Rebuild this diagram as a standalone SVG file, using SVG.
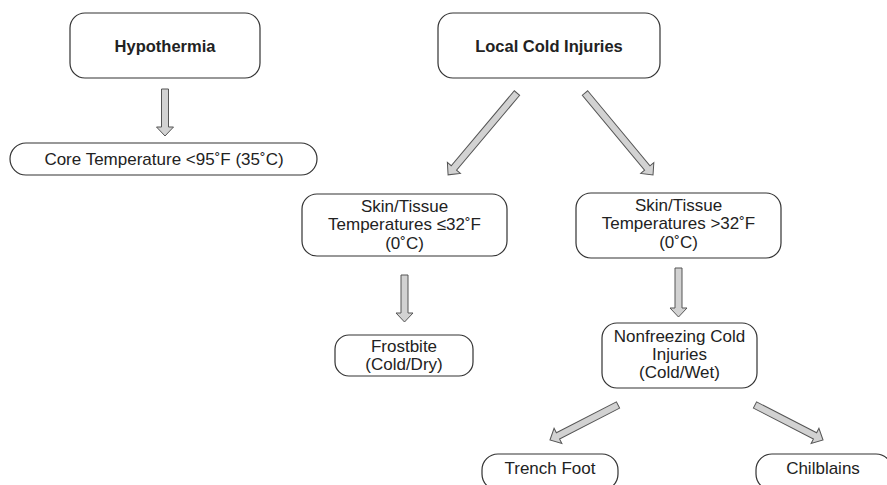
<svg xmlns="http://www.w3.org/2000/svg" width="887" height="485" viewBox="0 0 887 485">
<style>
.box{fill:#fff;stroke:#333;stroke-width:1.2}
.arr{fill:#d2d2d2;stroke:#555;stroke-width:1}
text{font-family:"Liberation Sans",Arial,sans-serif;font-size:17px;fill:#222;text-anchor:middle}
.b{font-weight:bold;font-size:16.5px}
</style>
<rect width="887" height="485" fill="#fff"/>
<g id="connectors">
<path class="arr" transform="translate(165,89) rotate(90)" d="M0,-3.5 H38 V-8.5 L47,0 L38,8.5 V3.5 H0 Z"/>
<path class="arr" transform="translate(404.5,275) rotate(90)" d="M0,-3.5 H38 V-8.5 L47,0 L38,8.5 V3.5 H0 Z"/>
<path class="arr" transform="translate(678.5,268) rotate(90)" d="M0,-3.5 H40 V-8.5 L49,0 L40,8.5 V3.5 H0 Z"/>
<path class="arr" transform="translate(517,93) rotate(130.1)" d="M0,-3.5 H98 V-8.5 L107,0 L98,8.5 V3.5 H0 Z"/>
<path class="arr" transform="translate(585,93) rotate(50.3)" d="M0,-3.5 H97.5 V-8.5 L106.5,0 L97.5,8.5 V3.5 H0 Z"/>
<path class="arr" transform="translate(618,405) rotate(152.8)" d="M0,-3.5 H67.5 V-8.5 L76.5,0 L67.5,8.5 V3.5 H0 Z"/>
<path class="arr" transform="translate(755,405) rotate(27.2)" d="M0,-3.5 H67.5 V-8.5 L76.5,0 L67.5,8.5 V3.5 H0 Z"/>
</g>
<g id="hypothermia">
<rect class="box" x="70" y="13" width="190" height="65" rx="15"/>
<text class="b" x="165" y="52">Hypothermia</text>
</g>
<g id="local-cold">
<rect class="box" x="438" y="13" width="222" height="65" rx="15"/>
<text class="b" x="549" y="52">Local Cold Injuries</text>
</g>
<g id="core-temp">
<rect class="box" x="10" y="143" width="307" height="32" rx="16"/>
<text x="164" y="165">Core Temperature &lt;95˚F (35˚C)</text>
</g>
<g id="skin-le">
<rect class="box" x="302" y="194" width="205" height="62" rx="15"/>
<text x="404.5" y="211.5">Skin/Tissue</text>
<text x="404.5" y="230">Temperatures ≤32˚F</text>
<text x="404.5" y="248.5">(0˚C)</text>
</g>
<g id="skin-gt">
<rect class="box" x="576" y="193" width="205" height="65" rx="15"/>
<text x="678.5" y="210.5">Skin/Tissue</text>
<text x="678.5" y="229">Temperatures &gt;32˚F</text>
<text x="678.5" y="247.5">(0˚C)</text>
</g>
<g id="frostbite">
<rect class="box" x="335" y="335" width="138" height="41" rx="14"/>
<text x="404" y="352">Frostbite</text>
<text x="404" y="370">(Cold/Dry)</text>
</g>
<g id="nonfreezing">
<rect class="box" x="602" y="323" width="155" height="65" rx="15"/>
<text x="679.5" y="342">Nonfreezing Cold</text>
<text x="679.5" y="360">Injuries</text>
<text x="679.5" y="378">(Cold/Wet)</text>
</g>
<g id="trench-foot">
<rect class="box" x="482" y="454" width="136" height="36" rx="16"/>
<text x="550" y="474">Trench Foot</text>
</g>
<g id="chilblains">
<rect class="box" x="756" y="454" width="136" height="36" rx="16"/>
<text x="823" y="474">Chilblains</text>
</g>
</svg>
